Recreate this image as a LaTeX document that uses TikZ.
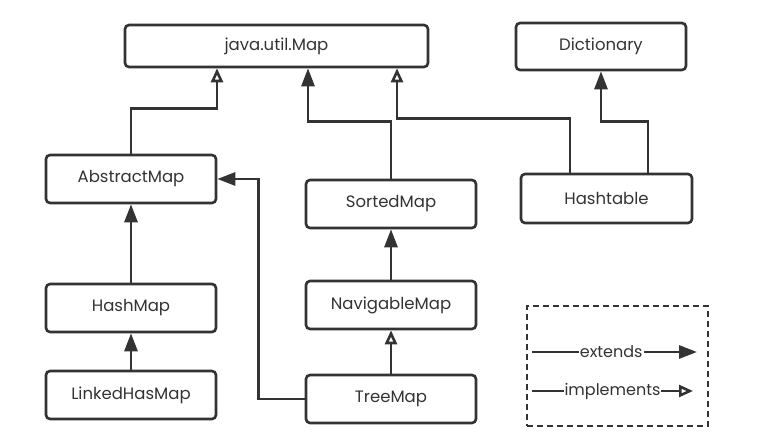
\documentclass[tikz,border=0pt]{standalone}
\usepackage{fontspec}
\setmainfont{Poppins}
\usetikzlibrary{arrows.meta}
\definecolor{ink}{HTML}{333333}
\begin{document}
\begin{tikzpicture}[x=1pt,y=-1pt,
  box/.style={draw=ink, line width=2.6pt, rounded corners=4pt, minimum width=170pt, minimum height=48pt, text=ink, font=\fontsize{16.5}{19}\selectfont, inner sep=0pt},
  ext/.style={draw=ink, line width=2.8pt, -{Triangle[width=13pt,length=18pt]}},
  impl/.style={draw=ink, line width=2.8pt, -{Triangle[open,width=12pt,length=14pt,line width=2.6pt]}},
  lbl/.style={fill=white, inner sep=1pt, text=ink, font=\fontsize{16}{19}\selectfont}
]
\useasboundingbox (0,0) rectangle (779,443);
\node[box, minimum width=303pt, minimum height=42pt] (map) at (276.5,46) {java.util.Map};
\node[box, minimum height=47pt] (dict) at (601,46.5) {Dictionary};
\node[box] (am) at (131,179) {AbstractMap};
\node[box] (sm) at (391,204) {SortedMap};
\node[box, minimum width=171pt, minimum height=49pt] (ht) at (606.5,198.5) {Hashtable};
\node[box] (hm) at (131,308) {HashMap};
\node[box] (nav) at (391,305) {NavigableMap};
\node[box] (lhm) at (131,395) {LinkedHasMap};
\node[box] (tree) at (391,399) {TreeMap};

\draw[impl] (am.north) -- ++(0,-45) -| ([xshift=-59.5pt]map.south);
\draw[ext] (sm.north) -- ++(0,-57) -| ([xshift=31.5pt]map.south);
\draw[impl] ([xshift=-36.5pt]ht.north) -- ++(0,-54) -| ([xshift=120.5pt]map.south);
\draw[ext] ([xshift=41.5pt]ht.north) -- ++(0,-51) -| (dict.south);
\draw[ext] (hm.north) -- (am.south);
\draw[ext] (lhm.north) -- (hm.south);
\draw[ext] (nav.north) -- (sm.south);
\draw[impl] (tree.north) -- (nav.south);
\draw[ext] (tree.west) -- ++(-46,0) |- (am.east);

\node[draw=ink, dash pattern=on 6pt off 4pt, line width=1.4pt, minimum width=181pt, minimum height=120pt, inner sep=0pt] (legend) at (617.5,366) {};
\coordinate (e1) at (532,352);
\coordinate (e2) at (697,352);
\coordinate (i1) at (532,391);
\coordinate (i2) at (693,391);
\draw[ext] (e1) -- node[lbl, pos=0.48] {extends} (e2);
\draw[impl] (i1) -- node[lbl, pos=0.5] {implements} (i2);
\end{tikzpicture}
\end{document}
